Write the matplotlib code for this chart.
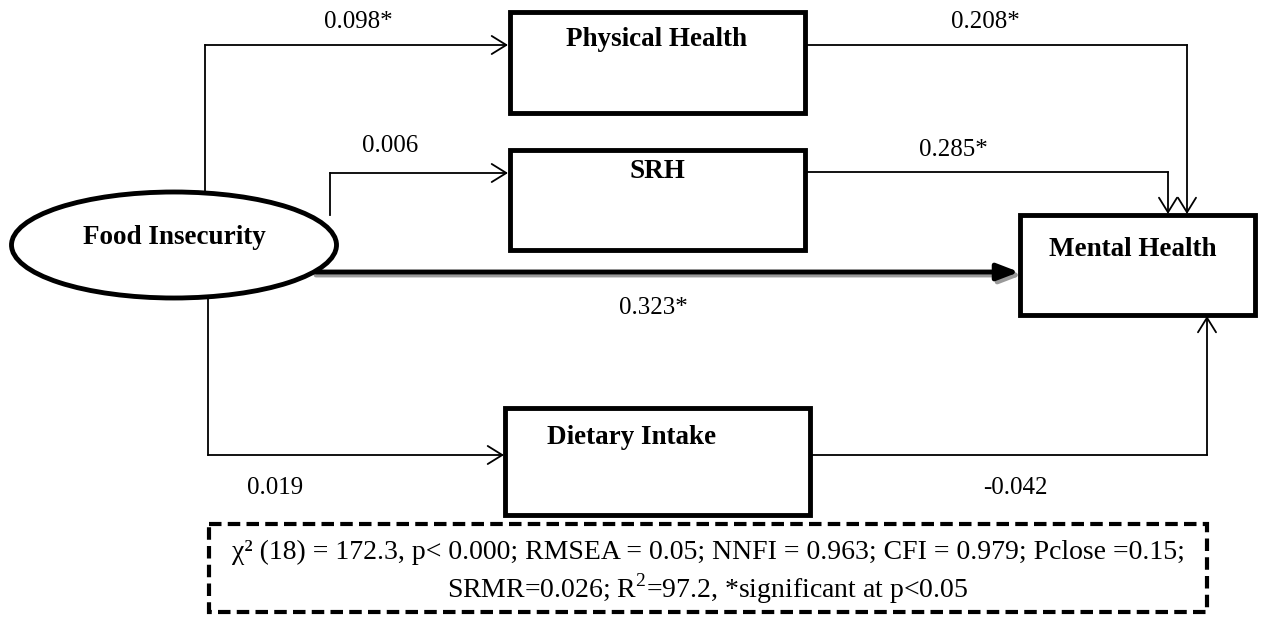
import matplotlib.pyplot as plt
from matplotlib.patches import Rectangle, Ellipse

plt.rcParams['font.family'] = ['Liberation Serif', 'DejaVu Serif']
plt.rcParams['mathtext.fontset'] = 'custom'
plt.rcParams['mathtext.rm'] = 'Liberation Serif'

# path diagram content
nodes = ["Food Insecurity", "Physical Health", "SRH", "Dietary Intake", "Mental Health"]
coef_a = ["0.098*", "0.006", "0.019"]      # food insecurity -> mediators
coef_b = ["0.208*", "0.285*", "-0.042"]    # mediators -> mental health
coef_direct = "0.323*"
fit_lines = ["χ² (18) = 172.3, p< 0.000; RMSEA = 0.05; NNFI = 0.963; CFI = 0.979; Pclose =0.15;",
             "SRMR=0.026; R$^{\\mathrm{2}}$=97.2, *significant at p<0.05"]

W, H = 1287, 619
fig = plt.figure(figsize=(W / 100, H / 100), dpi=100)
ax = fig.add_axes([0, 0, 1, 1])
ax.set_xlim(0, W)
ax.set_ylim(H, 0)
ax.axis('off')

# boxes: (x, y, w, h)
boxes = {"Physical Health": (510, 12, 295, 101),
         "SRH": (510, 150, 295, 100),
         "Dietary Intake": (505, 408, 305, 107),
         "Mental Health": (1020, 215, 235, 100)}
for name, (x, y, w, h) in boxes.items():
    ax.add_patch(Rectangle((x, y), w, h, fill=False, lw=3.5, ec='black', zorder=3))

ax.add_patch(Ellipse((174, 245), 325, 106, fill=False, lw=3.5, ec='black', zorder=3))

bold = dict(fontsize=19.5, fontweight='bold', zorder=4)
ax.text(174, 237, nodes[0], ha='center', va='center', **bold)
ax.text(657, 40, nodes[1], ha='center', va='center', **bold)
ax.text(657, 172, nodes[2], ha='center', va='center', **bold)
ax.text(632, 437, nodes[3], ha='center', va='center', **bold)
ax.text(1133, 249, nodes[4], ha='center', va='center', **bold)

lw = 1.3
head = dict(arrowstyle='->,head_length=1.05,head_width=0.65', lw=lw, color='black',
            shrinkA=0, shrinkB=0)


def path(points):
    xs = [p[0] for p in points]
    ys = [p[1] for p in points]
    ax.plot(xs[:-1], ys[:-1], color='black', lw=lw, solid_joinstyle='miter')
    ax.annotate('', xy=points[-1], xytext=points[-2], arrowprops=head)


# food insecurity -> mediators
path([(205, 192), (205, 45), (508, 45)])
path([(330, 215), (330, 173), (508, 173)])
path([(208, 298), (208, 455), (504, 455)])
# mediators -> mental health
path([(805, 45), (1187, 45), (1187, 214)])
path([(805, 172), (1168, 172), (1168, 214)])
path([(810, 455), (1207, 455), (1207, 316)])

# direct effect, thick arrow with shadow
thick = '-|>,head_length=1.3,head_width=0.5'
ax.annotate('', xy=(1022, 275), xytext=(316, 275),
            arrowprops=dict(arrowstyle=thick, lw=3.5, color='#9a9a9a',
                            shrinkA=0, shrinkB=0), zorder=1)
ax.annotate('', xy=(1019, 272), xytext=(316, 272),
            arrowprops=dict(arrowstyle=thick, lw=3.5, color='black',
                            shrinkA=0, shrinkB=0), zorder=2)

reg = dict(fontsize=18, ha='center', va='center')
ax.text(358, 22, coef_a[0], **reg)
ax.text(390, 146, coef_a[1], **reg)
ax.text(275, 488, coef_a[2], **reg)
ax.text(985, 22, coef_b[0], **reg)
ax.text(953, 150, coef_b[1], **reg)
ax.text(1015, 488, coef_b[2], **reg)
ax.text(653, 308, coef_direct, **reg)

# fit statistics box
ax.add_patch(Rectangle((209, 524), 998, 88, fill=False, lw=3, ec='black',
                       ls=(0, (3, 1.5)), zorder=3))
ax.text(708, 552, fit_lines[0], fontsize=20, ha='center', va='center')
ax.text(708, 589, fit_lines[1], fontsize=20, ha='center', va='center')

fig.savefig('out.png', dpi=100)
